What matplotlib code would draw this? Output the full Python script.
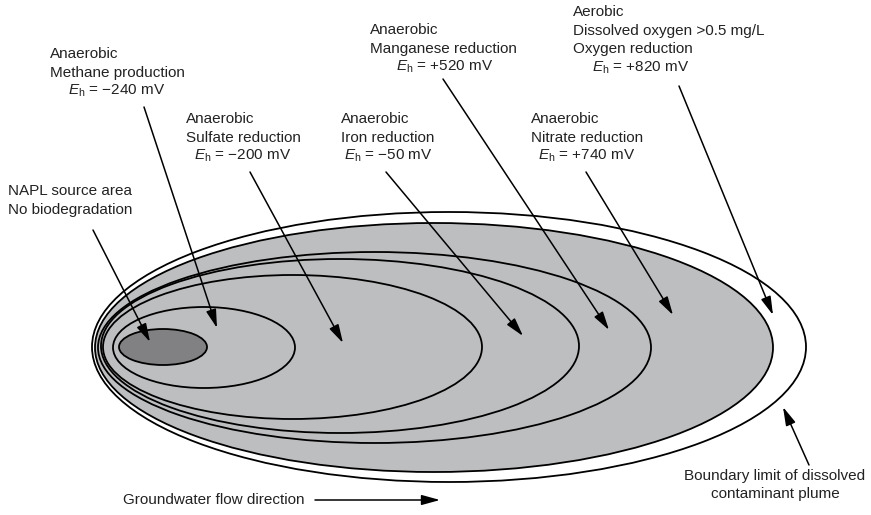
import matplotlib
matplotlib.use("Agg")
import matplotlib.pyplot as plt
from matplotlib.patches import Ellipse

plt.rcParams['font.family'] = ['Liberation Sans', 'DejaVu Sans']
plt.rcParams['mathtext.fontset'] = 'custom'
plt.rcParams['mathtext.rm'] = 'Liberation Sans'
plt.rcParams['mathtext.it'] = 'Liberation Sans:italic'

# ---- data ----
zone_states = ["Anaerobic", "Anaerobic", "Anaerobic", "Anaerobic", "Anaerobic", "Aerobic"]
zone_processes = ["Methane production", "Sulfate reduction", "Iron reduction",
                  "Manganese reduction", "Nitrate reduction",
                  "Dissolved oxygen >0.5 mg/L\nOxygen reduction"]
zone_eh_mv = ["\u2212240", "\u2212200", "\u221250", "+520", "+740", "+820"]

# ellipses: (left, right, top, bottom) in figure pixels
plume_outer = (92, 806, 212, 482)
zone_bounds = [(95, 773, 223, 472),   # aerobic (grey) boundary
               (98, 651, 252, 443),   # nitrate
               (101, 579, 259, 433),  # manganese
               (103, 482, 275, 419),  # iron
               (113, 295, 307, 388)]  # sulfate
napl = (119, 207, 329, 365)

# label positions (x left, y of first line) and arrow (start, tip)
label_pos = [(50, 54), (186, 119), (341, 119), (370, 30), (531, 119), (573, 12)]
eh_center = [117, 243, 388, 445, 587, 641]
arrows = [((144, 107), (217, 328)),
          ((250, 172), (343, 343)),
          ((386, 172), (523, 336)),
          ((443, 79), (609, 330)),
          ((586, 172), (673, 315)),
          ((679, 86), (773, 315))]

GREY = "#bdbec0"
DARK = "#818184"
FS = 11
LH = 18.5

fig = plt.figure(figsize=(8.71, 5.15), dpi=100)
ax = fig.add_axes([0, 0, 1, 1])
ax.set_xlim(0, 871)
ax.set_ylim(515, 0)
ax.axis('off')


def ell(b, fc, z):
    l, r, t, bt = b
    return Ellipse(((l + r) / 2, (t + bt) / 2), r - l, bt - t,
                   facecolor=fc, edgecolor='black', lw=1.3, zorder=z)


ax.add_patch(ell(plume_outer, 'white', 1))
ax.add_patch(ell(zone_bounds[0], GREY, 2))
for b in zone_bounds[1:]:
    ax.add_patch(ell(b, 'none', 3))
ax.add_patch(ell(napl, DARK, 4))

aprops = dict(arrowstyle='-|>,head_length=0.8,head_width=0.22', color='black',
              lw=1.1, shrinkA=0, shrinkB=0, mutation_scale=14)

for i in range(6):
    x, y = label_pos[i]
    lines = [zone_states[i]] + zone_processes[i].split("\n")
    for j, s in enumerate(lines):
        ax.text(x, y + j * LH, s, fontsize=FS, ha='left', va='center', color='#222222')
    ey = y + len(lines) * LH
    ax.text(eh_center[i], ey, r"$E_{\mathrm{h}}$" + " = " + zone_eh_mv[i] + " mV",
            fontsize=FS, ha='center', va='center', color='#222222')
    (sx, sy), (tx, ty) = arrows[i]
    ax.annotate('', xy=(tx, ty), xytext=(sx, sy), arrowprops=aprops, zorder=6)

# NAPL label
ax.text(8, 191, "NAPL source area", fontsize=FS, ha='left', va='center', color='#222222')
ax.text(8, 210, "No biodegradation", fontsize=FS, ha='left', va='center', color='#222222')
ax.annotate('', xy=(150, 342), xytext=(93, 230), arrowprops=aprops, zorder=6)

# boundary label
ax.text(775, 485, "Boundary limit of dissolved\ncontaminant plume", fontsize=FS,
        ha='center', va='center', linespacing=1.35, color='#222222')
ax.annotate('', xy=(783, 407), xytext=(809, 465), arrowprops=aprops, zorder=6)

# groundwater flow
ax.text(123, 500, "Groundwater flow direction", fontsize=FS, ha='left', va='center', color='#222222')
ax.annotate('', xy=(440, 500), xytext=(315, 500), arrowprops=aprops, zorder=6)

fig.savefig("out.png", dpi=100)
